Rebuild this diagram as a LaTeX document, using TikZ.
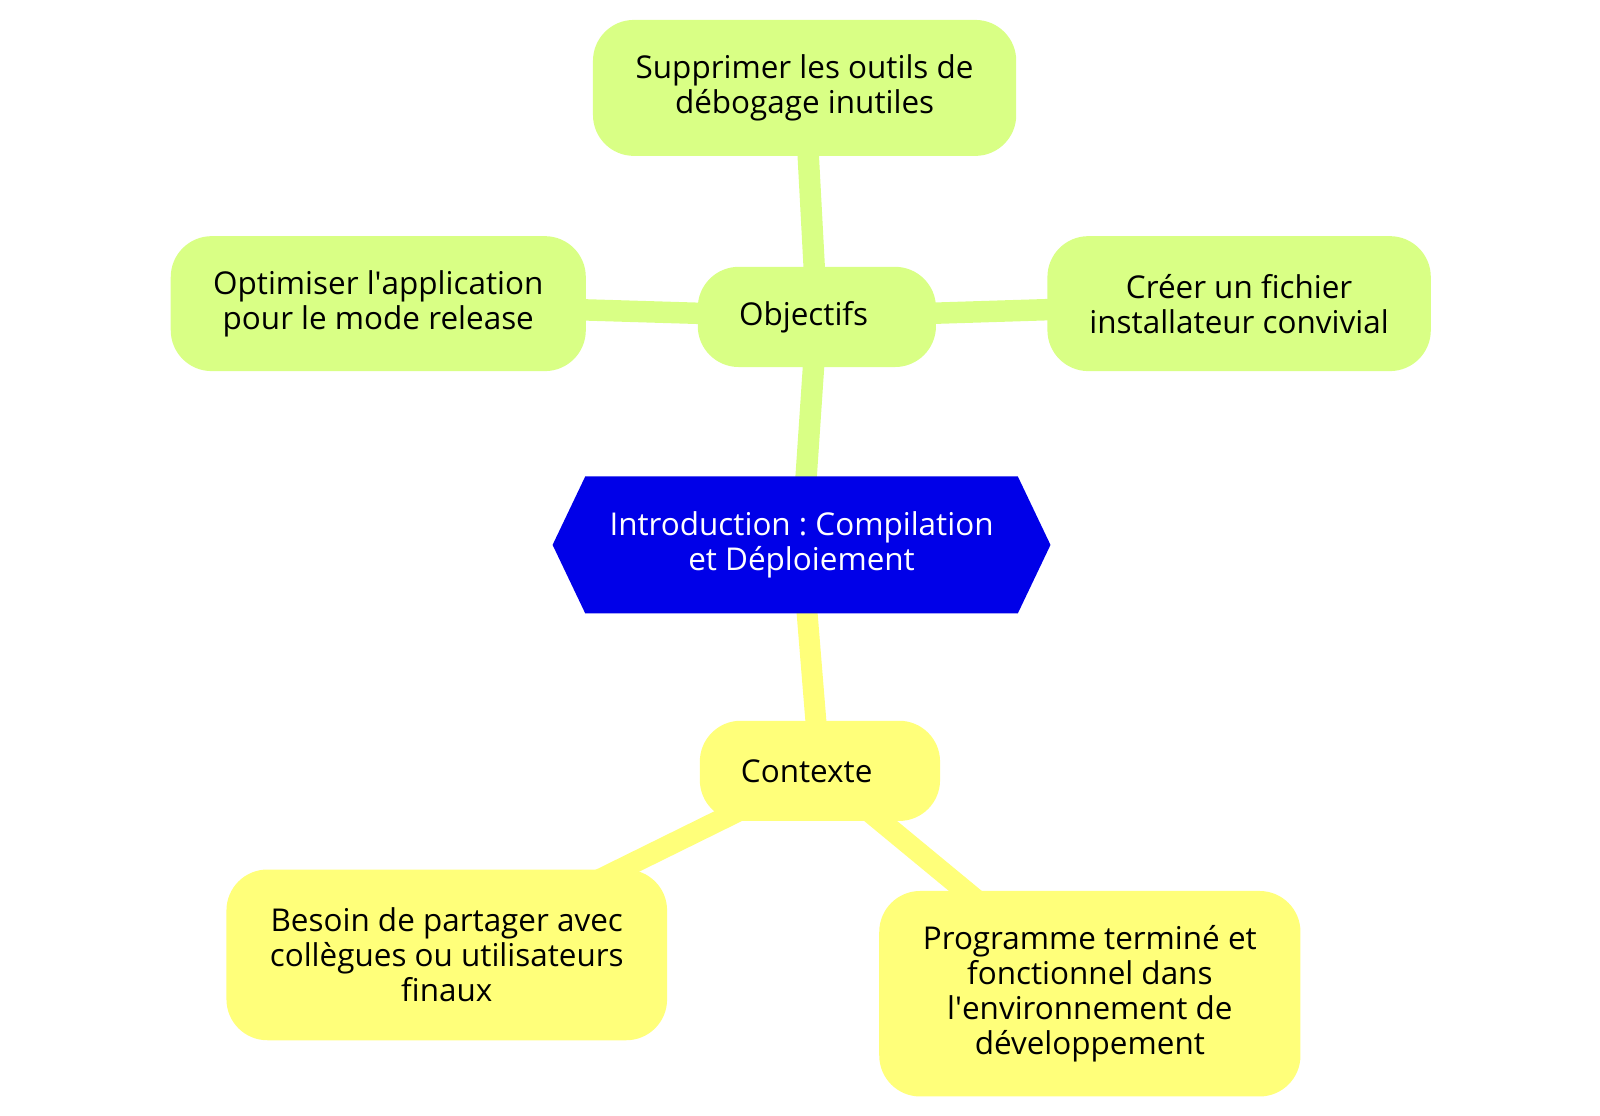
\documentclass[tikz,border=0pt]{standalone}
\usepackage{fontspec}
\setmainfont{Open Sans}
\usepackage{xcolor}
\usepackage{tikz}
\usetikzlibrary{shapes.symbols, backgrounds}
\frenchspacing

\definecolor{objgreen}{RGB}{217,255,133}
\definecolor{ctxyellow}{RGB}{255,255,122}
\definecolor{introblue}{RGB}{0,0,232}

\tikzset{
  idea/.style={rounded corners=0.8cm, align=center, inner sep=0pt,
    font=\fontsize{17.5}{19.5}\selectfont},
  objbox/.style={idea, fill=objgreen},
  ctxbox/.style={idea, fill=ctxyellow},
  objlink/.style={draw=objgreen, line width=0.42cm},
  ctxlink/.style={draw=ctxyellow, line width=0.41cm}
}

\begin{document}
\begin{tikzpicture}
\useasboundingbox (0,0.49) rectangle (31.30,22.32);

% Centre
\node[signal, signal to=west and east, signal pointer angle=129,
  fill=introblue, text=white, align=center, inner sep=0pt,
  minimum width=9.74cm, minimum height=2.68cm,
  font=\fontsize{17.5}{19.5}\selectfont] (intro) at (15.68,11.66)
  {Introduction : Compilation\\et Déploiement};

% Objectifs
\node[objbox, minimum width=4.66cm, minimum height=1.96cm] (obj) at (15.98,16.12) {Objectifs\hspace*{0.52cm}};
\node[objbox, minimum width=8.28cm, minimum height=2.66cm] (supp) at (15.74,20.60)
  {Supprimer les outils de\\débogage inutiles};
\node[objbox, minimum width=8.12cm, minimum height=2.64cm] (optim) at (7.40,16.38)
  {Optimiser l\textquotesingle application\\pour le mode release};
\node[objbox, minimum width=7.50cm, minimum height=2.64cm] (creer) at (24.24,16.38)
  {Créer un fichier\\installateur convivial};

% Contexte
\node[ctxbox, minimum width=4.70cm, minimum height=1.96cm] (ctx) at (16.04,7.24) {Contexte\hspace*{0.52cm}};
\node[ctxbox, minimum width=8.62cm, minimum height=3.34cm] (besoin) at (8.74,3.64)
  {Besoin de partager avec\\collègues ou utilisateurs\\finaux};
\node[ctxbox, minimum width=8.24cm, minimum height=4.02cm] (prog) at (21.32,2.88)
  {Programme terminé et\\fonctionnel dans\\l\textquotesingle environnement de\\développement};

% Links
\begin{scope}[on background layer]
\draw[objlink] (intro.center) -- (obj.center);
\draw[objlink] (obj.center) -- (supp.center);
\draw[objlink] (obj.center) -- (optim.center);
\draw[objlink] (obj.center) -- (creer.center);
\draw[ctxlink] (intro.center) -- (ctx.center);
\draw[ctxlink] (ctx.center) -- (besoin.center);
\draw[ctxlink] (ctx.center) -- (prog.center);
\end{scope}
\end{tikzpicture}
\end{document}
